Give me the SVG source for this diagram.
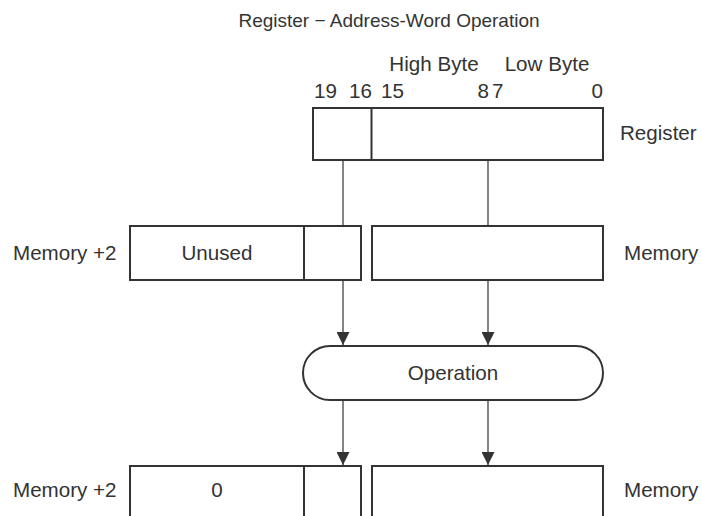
<svg xmlns="http://www.w3.org/2000/svg" width="702" height="516" viewBox="0 0 702 516">
<style>
text{font-family:"Liberation Sans",Arial,sans-serif;font-size:20.6px;fill:#333}
.t{font-size:19px}
.box{fill:#fff;stroke:#333;stroke-width:2}
.div{stroke:#333;stroke-width:2}
.c{stroke:#333;stroke-width:1.2;fill:none}
</style>
<defs>
<marker id="ah" viewBox="0 0 13 13" refX="13" refY="6.5" markerWidth="13" markerHeight="13" markerUnits="userSpaceOnUse" orient="auto">
<path d="M0,0 L13,6.5 L0,13 Z" fill="#333"/>
</marker>
</defs>
<text class="t" x="389" y="27" text-anchor="middle">Register − Address-Word Operation</text>
<g id="bit-labels">
<text x="434" y="71" text-anchor="middle">High Byte</text>
<text x="547" y="71" text-anchor="middle">Low Byte</text>
<text x="314" y="98">19</text>
<text x="372" y="98" text-anchor="end">16</text>
<text x="381" y="98">15</text>
<text x="489" y="98" text-anchor="end">8</text>
<text x="492" y="98">7</text>
<text x="603" y="98" text-anchor="end">0</text>
</g>
<g id="register">
<rect class="box" x="313" y="108" width="290" height="52"/>
<line class="div" x1="371.5" y1="108" x2="371.5" y2="160"/>
<text x="620" y="140">Register</text>
</g>
<g id="memory2">
<rect class="box" x="130" y="226" width="231" height="54"/>
<line class="div" x1="304" y1="226" x2="304" y2="280"/>
<text x="217" y="260" text-anchor="middle">Unused</text>
<text x="13" y="260">Memory +2</text>
</g>
<g id="memory">
<rect class="box" x="372" y="226" width="231" height="54"/>
<text x="624" y="260">Memory</text>
</g>
<g id="operation">
<rect class="box" x="303" y="346" width="300" height="54" rx="27" ry="27"/>
<text x="453" y="380" text-anchor="middle">Operation</text>
</g>
<g id="result-memory2">
<rect class="box" x="130" y="466" width="231" height="70"/>
<line class="div" x1="304" y1="466" x2="304" y2="536"/>
<text x="217" y="497" text-anchor="middle">0</text>
<text x="13" y="497">Memory +2</text>
</g>
<g id="result-memory">
<rect class="box" x="372" y="466" width="231" height="70"/>
<text x="624" y="497">Memory</text>
</g>
<g id="connectors">
<line class="c" x1="343" y1="161" x2="343" y2="225"/>
<line class="c" x1="488" y1="161" x2="488" y2="225"/>
<line class="c" x1="343" y1="281" x2="343" y2="345" marker-end="url(#ah)"/>
<line class="c" x1="488" y1="281" x2="488" y2="345" marker-end="url(#ah)"/>
<line class="c" x1="343" y1="401" x2="343" y2="465" marker-end="url(#ah)"/>
<line class="c" x1="488" y1="401" x2="488" y2="465" marker-end="url(#ah)"/>
</g>
</svg>
